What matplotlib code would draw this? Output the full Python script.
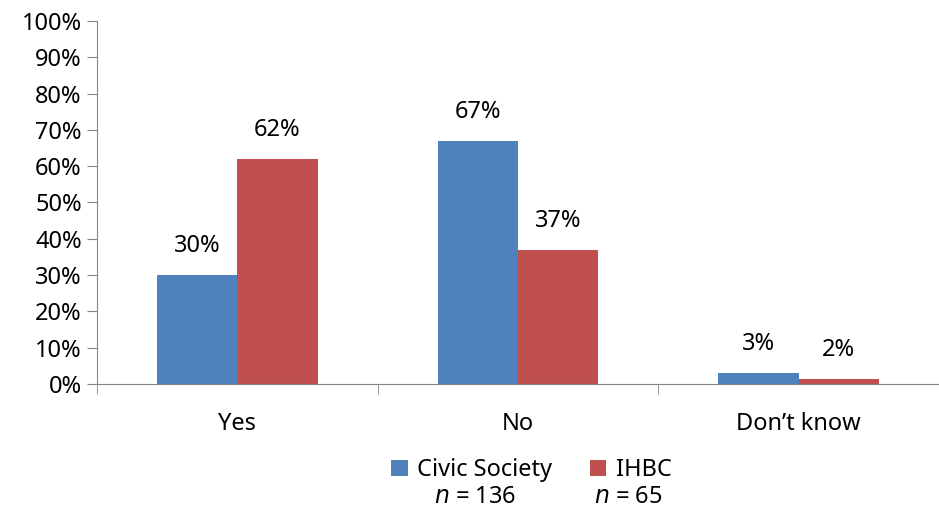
import matplotlib.pyplot as plt
import numpy as np

plt.rcParams['font.family'] = ['Noto Sans', 'DejaVu Sans']

categories = ['Yes', 'No', 'Don\u2019t know']
civic = [30, 67, 3]
ihbc = [62, 37, 1.5]
series_names = ['Civic Society', 'IHBC']
n_labels = ['136', '65']
colors = ['#4F81BD', '#C0504D']

fs = 17

fig = plt.figure(figsize=(9.39, 5.15), dpi=100)
ax = fig.add_axes([0.1033, 0.2544, 0.8967, 0.7048])

x = np.arange(len(categories))
w = 0.286
b1 = ax.bar(x - w / 2, civic, w, color=colors[0], label=series_names[0])
b2 = ax.bar(x + w / 2, ihbc, w, color=colors[1], label=series_names[1])

for bars, vals in [(b1, civic), (b2, ihbc)]:
    for rect, v in zip(bars, vals):
        ax.text(rect.get_x() + rect.get_width() / 2, v + 8, '{:.0f}%'.format(v),
                ha='center', va='center', fontsize=fs)

ax.set_xlim(-0.5, 2.5)
ax.set_ylim(0, 100)
ax.set_yticks(range(0, 101, 10))
ax.set_yticklabels(['{}%'.format(t) for t in range(0, 101, 10)], fontsize=fs)
ax.set_xticks(x)
ax.set_xticklabels(categories, fontsize=fs)
ax.tick_params(axis='x', length=0, pad=20)
ax.set_xticks([-0.5, 0.5, 1.5, 2.5], minor=True)
ax.tick_params(axis='x', which='minor', length=7, color='#868686', direction='out')
ax.tick_params(axis='y', length=7, color='#868686', direction='out', pad=4)

for s in ['top', 'right']:
    ax.spines[s].set_visible(False)
for s in ['left', 'bottom']:
    ax.spines[s].set_color('#868686')

fig.legend(handles=[b1, b2], loc='center', bbox_to_anchor=(0.566, 0.087),
           ncol=2, frameon=False, fontsize=fs, handlelength=0.7, handleheight=0.7,
           handletextpad=0.4, columnspacing=1.6)
fig.text(0.506, 0.023, '$\\it{n}$ = ' + n_labels[0], ha='center', fontsize=fs)
fig.text(0.669, 0.023, '$\\it{n}$ = ' + n_labels[1], ha='center', fontsize=fs)

fig.savefig('out.png', dpi=100)
